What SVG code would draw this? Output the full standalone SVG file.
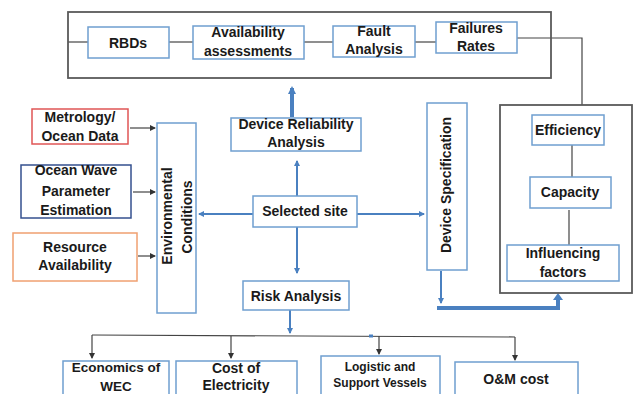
<svg xmlns="http://www.w3.org/2000/svg" width="638" height="394" viewBox="0 0 638 394">
<defs>
<marker id="ab" markerWidth="6" markerHeight="6" refX="5" refY="3" orient="auto" markerUnits="userSpaceOnUse"><path d="M0,0 L6,3 L0,6 z" fill="#4a80c0"/></marker>
<marker id="abk" markerWidth="8" markerHeight="8" refX="6" refY="4" orient="auto" markerUnits="userSpaceOnUse"><path d="M0,0 L8,4 L0,8 z" fill="#4a80c0"/></marker>
<marker id="ak" markerWidth="6" markerHeight="6" refX="5" refY="3" orient="auto" markerUnits="userSpaceOnUse"><path d="M0,0 L6,3 L0,6 z" fill="#333"/></marker>
</defs>
<style>
.b{fill:#fff;stroke:#6f9fd0;stroke-width:1.5}
.g{fill:none;stroke:#5a5a5a;stroke-width:1.8}
.t{font-family:"Liberation Sans",Arial,sans-serif;font-weight:bold;font-size:14px;fill:#1a1a1a;text-anchor:middle}
.s{font-size:12px}
.k{fill:none;stroke:#444;stroke-width:1.2}
.bl{fill:none;stroke:#4a80c0;stroke-width:2}
.bt{fill:none;stroke:#4a80c0;stroke-width:4}
</style>
<rect width="638" height="394" fill="#fff"/>
<g id="connectors">
<line class="k" x1="68" y1="42" x2="88" y2="42"/>
<line class="k" x1="169" y1="42" x2="193" y2="42"/>
<line class="k" x1="304" y1="42" x2="333" y2="42"/>
<line class="k" x1="415" y1="42" x2="436" y2="42"/>
<polyline class="k" points="517,38 582,38 582,105"/>
<line class="k" x1="572" y1="145" x2="572" y2="177"/>
<line class="k" x1="569" y1="210" x2="569" y2="245"/>
<line class="k" x1="130" y1="128" x2="155" y2="128" marker-end="url(#ak)"/>
<line class="k" x1="133" y1="192" x2="155" y2="192" marker-end="url(#ak)"/>
<line class="k" x1="138" y1="256" x2="155" y2="256" marker-end="url(#ak)"/>
<line class="bt" x1="292" y1="117" x2="292" y2="88" marker-end="url(#abk)"/>
<line class="bl" x1="297" y1="196" x2="297" y2="161" marker-end="url(#ab)"/>
<line class="bl" x1="253" y1="214" x2="199" y2="214" marker-end="url(#ab)"/>
<line class="bl" x1="357" y1="214" x2="424" y2="214" marker-end="url(#ab)"/>
<line class="bl" x1="297" y1="227" x2="297" y2="273" marker-end="url(#ab)"/>
<line class="bl" x1="441" y1="271" x2="441" y2="303" marker-end="url(#ab)"/>
<polyline class="bt" points="437,308 558,308 558,299"/>
<path d="M553,300 L558,293 L563,300 z" fill="#4a80c0"/>
<line class="bl" x1="290" y1="310" x2="290" y2="333" marker-end="url(#ab)"/>
<line class="k" x1="92" y1="335" x2="515" y2="337"/>
<line class="k" x1="92" y1="335" x2="92" y2="358" marker-end="url(#ak)"/>
<line class="k" x1="231" y1="336" x2="231" y2="358" marker-end="url(#ak)"/>
<line class="k" x1="379" y1="336" x2="379" y2="354" marker-end="url(#ak)"/>
<line class="k" x1="515" y1="337" x2="515" y2="360" marker-end="url(#ak)"/>
<line x1="369" y1="336" x2="373" y2="336" stroke="#4a80c0" stroke-width="3"/>
</g>
<g id="top-group"><rect class="g" x="68" y="12" width="483" height="66"/></g>
<g id="rbds"><rect class="b" x="88" y="27" width="81" height="31"/><text class="t" x="128" y="48">RBDs</text></g>
<g id="availability"><rect class="b" x="193" y="26" width="111" height="33"/><text class="t" x="248" y="37">Availability</text><text class="t" x="248" y="56">assessments</text></g>
<g id="fault"><rect class="b" x="333" y="26" width="82" height="31"/><text class="t" x="374" y="36">Fault</text><text class="t" x="374" y="54">Analysis</text></g>
<g id="failures"><rect class="b" x="436" y="22" width="81" height="31"/><text class="t" x="476" y="33">Failures</text><text class="t" x="476" y="51">Rates</text></g>
<g id="metrology"><rect x="32" y="109" width="96" height="35" fill="#fff" stroke="#e05555" stroke-width="1.5"/><text class="t" x="80" y="122">Metrology/</text><text class="t" x="80" y="141">Ocean Data</text></g>
<g id="ocean-wave"><rect x="21" y="165" width="110" height="53" fill="#fff" stroke="#34508f" stroke-width="1.5"/><text class="t" x="76" y="175">Ocean Wave</text><text class="t" x="76" y="196">Parameter</text><text class="t" x="76" y="215">Estimation</text></g>
<g id="resource"><rect x="13" y="233" width="124" height="48" fill="#fff" stroke="#f0a070" stroke-width="1.5"/><text class="t" x="75" y="252">Resource</text><text class="t" x="75" y="270">Availability</text></g>
<g id="environmental"><rect class="b" x="157" y="123" width="39" height="190"/><text class="t" transform="translate(172,216) rotate(-90)">Environmental</text><text class="t" transform="translate(192,217) rotate(-90)">Conditions</text></g>
<g id="device-reliability"><rect class="b" x="231" y="118" width="130" height="33"/><text class="t" x="296" y="129">Device Reliability</text><text class="t" x="296" y="147">Analysis</text></g>
<g id="selected-site"><rect class="b" x="253" y="196" width="104" height="31"/><text class="t" x="305" y="216">Selected site</text></g>
<g id="risk-analysis"><rect class="b" x="243" y="281" width="106" height="29"/><text class="t" x="296" y="301">Risk Analysis</text></g>
<g id="device-spec"><rect class="b" x="427" y="103" width="40" height="167"/><text class="t" transform="translate(451,185) rotate(-90)">Device Specification</text></g>
<g id="right-group"><rect class="g" x="500" y="105" width="132" height="188"/></g>
<g id="efficiency"><rect class="b" x="532" y="115" width="72" height="30"/><text class="t" x="568" y="135">Efficiency</text></g>
<g id="capacity"><rect class="b" x="530" y="177" width="81" height="31"/><text class="t" x="570" y="197">Capacity</text></g>
<g id="influencing"><rect class="b" x="507" y="245" width="112" height="36"/><text class="t" x="563" y="258">Influencing</text><text class="t" x="563" y="277">factors</text></g>
<g id="economics"><rect class="b" x="63" y="361" width="106" height="40"/><text class="t" x="116" y="372" style="font-size:13.5px">Economics of</text><text class="t" x="116" y="391" style="font-size:13.5px">WEC</text></g>
<g id="cost-electricity"><rect class="b" x="176" y="361" width="121" height="40"/><text class="t" x="236" y="373">Cost of</text><text class="t" x="236" y="390">Electricity</text></g>
<g id="logistic"><rect class="b" x="321" y="356" width="119" height="45"/><text class="t s" x="380" y="371">Logistic and</text><text class="t s" x="380" y="387">Support Vessels</text></g>
<g id="om-cost"><rect class="b" x="455" y="362" width="123" height="40"/><text class="t" x="516" y="384">O&amp;M cost</text></g>
</svg>
